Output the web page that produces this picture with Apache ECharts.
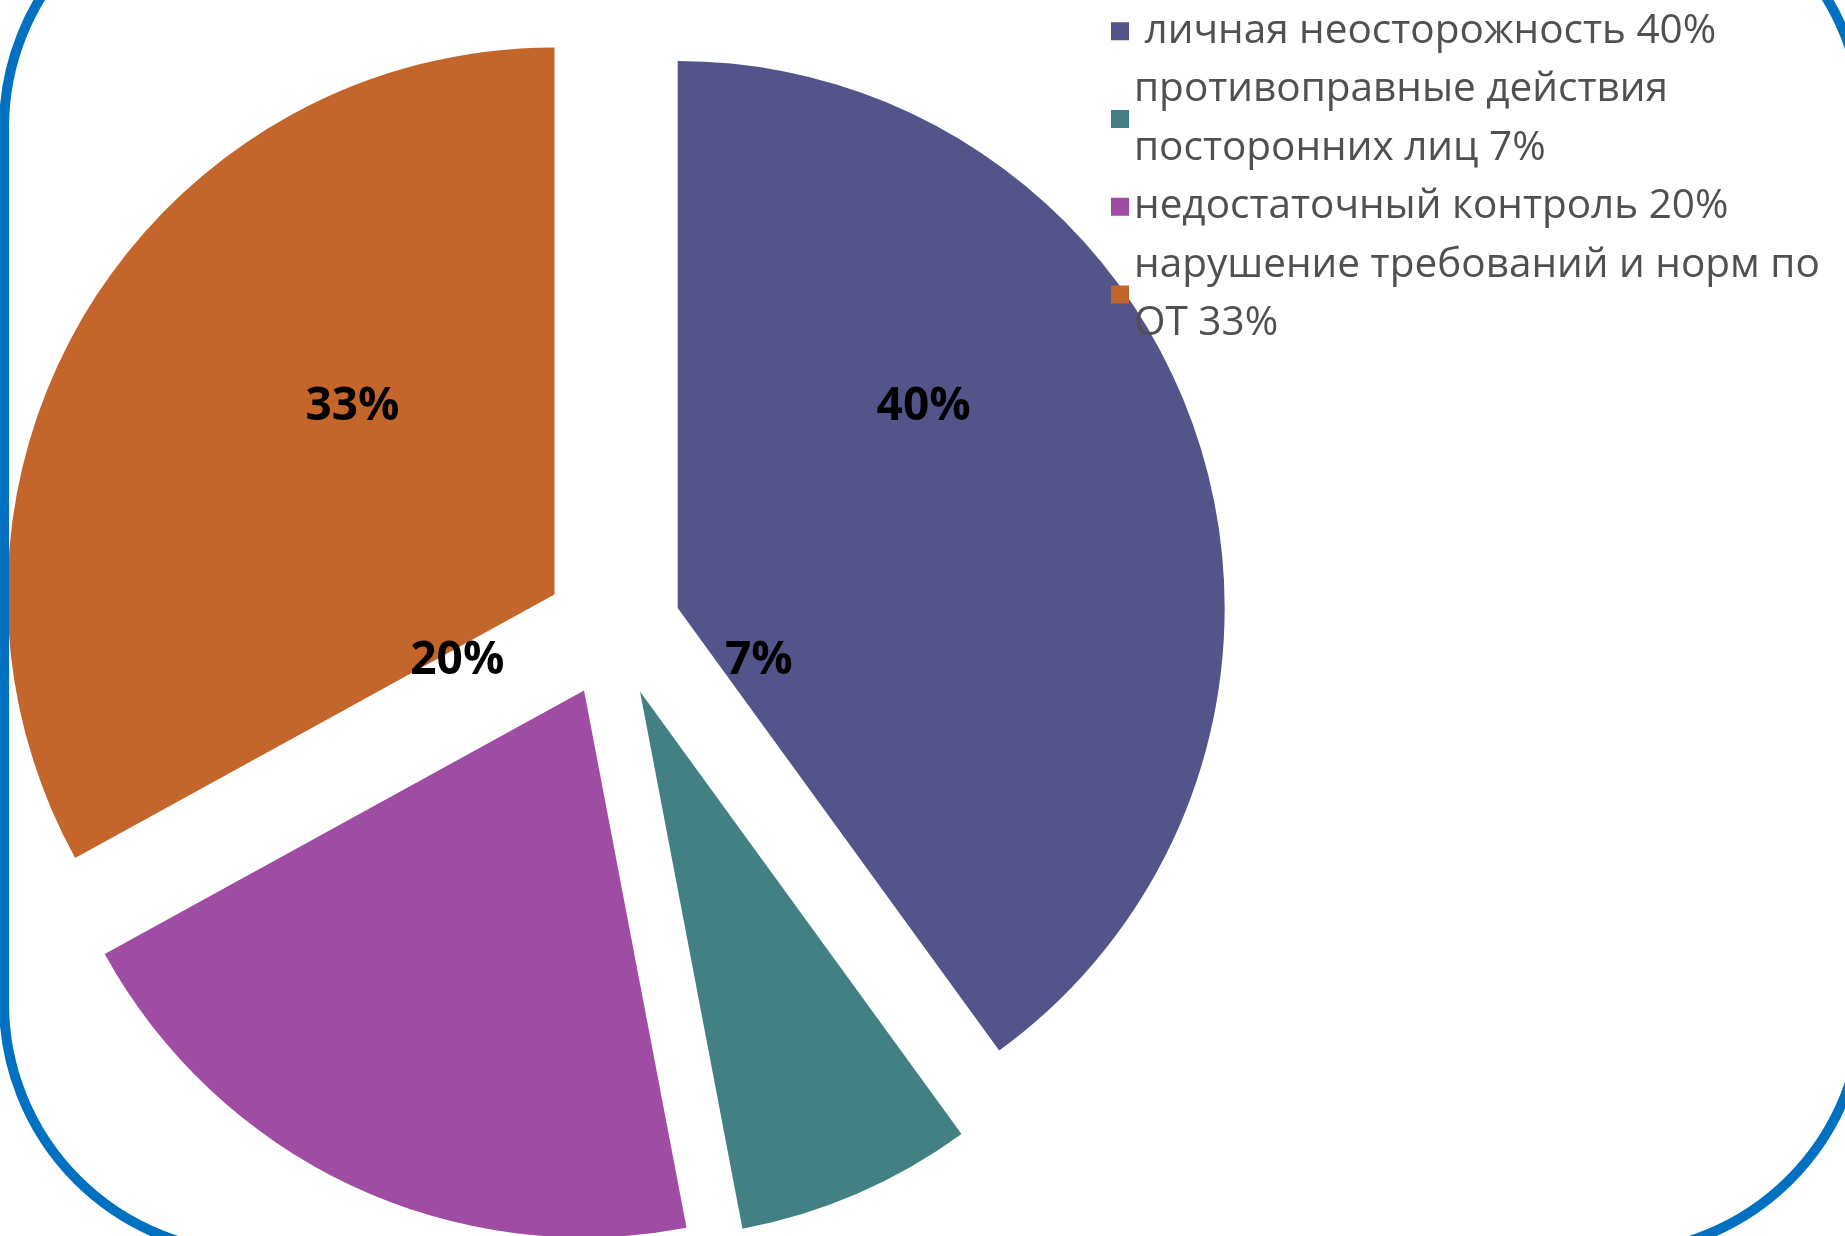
<!DOCTYPE html>
<html>
<head>
<meta charset="utf-8">
<script src="https://cdn.jsdelivr.net/npm/echarts@6/dist/echarts.min.js"></script>
<style>
html,body{margin:0;padding:0;background:#ffffff;}
#c{width:1845px;height:1236px;}
</style>
</head>
<body>
<div id="c"></div>
<script>
// ---- data ----
const categories = [
  ' личная неосторожность',
  'противоправные действия\nпосторонних лиц',
  'недостаточный контроль',
  'нарушение требований и норм по\nОТ'
];
const values = [40, 7, 20, 33];
const colors = ['#53558A', '#428084', '#9F4DA3', '#C4652C'];
// label nudges relative to default inside position [dx, dy]
const labelShift = [[-17, -116], [9, -284], [-9, -280], [36, -47]];

const chart = echarts.init(document.getElementById('c'), null, {renderer: 'canvas'});

const pieData = categories.map((name, i) => ({
  name: name,
  value: values[i],
  selected: true,
  itemStyle: {color: colors[i]}
}));

chart.setOption({
  animation: false,
  backgroundColor: '#ffffff',
  legend: {
    orient: 'vertical',
    left: 1111,
    top: 2,
    padding: 0,
    itemGap: 0,
    itemWidth: 18,
    itemHeight: 18,
    icon: 'rect',
    selectedMode: false,
    formatter: function (name) {
      const i = categories.indexOf(name);
      return name + ' ' + values[i] + '%';
    },
    textStyle: {
      fontFamily: 'Open Sans',
      fontSize: 40.5,
      lineHeight: 58.5,
      color: '#505050'
    },
    data: categories
  },
  series: [{
    type: 'pie',
    center: [613, 629],
    radius: [0, 547],
    startAngle: 90,
    clockwise: true,
    selectedMode: 'multiple',
    selectedOffset: 68,
    avoidLabelOverlap: false,
    emphasis: {disabled: true},
    itemStyle: {borderWidth: 0},
    label: {
      show: true,
      position: 'inside',
      formatter: '{c}%',
      fontFamily: 'Open Sans',
      fontWeight: 'bold',
      fontSize: 46,
      color: '#000000'
    },
    labelLine: {show: false},
    labelLayout: function (params) {
      const s = labelShift[params.dataIndex];
      return {dx: s[0], dy: s[1]};
    },
    data: pieData
  }],
  graphic: [{
    type: 'rect',
    silent: true,
    z: 100,
    shape: {x: 4, y: -122, width: 1859, height: 1375, r: 250},
    style: {fill: 'none', stroke: '#0070C0', lineWidth: 10}
  }]
});
</script>
</body>
</html>
